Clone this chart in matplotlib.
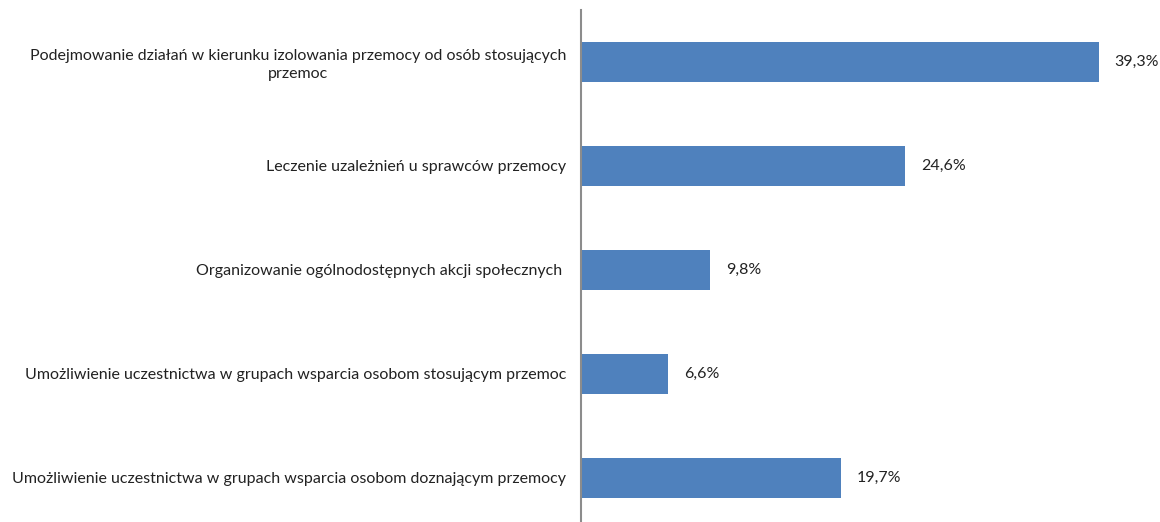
import matplotlib.pyplot as plt

categories = [
    "Podejmowanie działań w kierunku izolowania przemocy od osób stosujących\nprzemoc",
    "Leczenie uzależnień u sprawców przemocy",
    "Organizowanie ogólnodostępnych akcji społecznych ",
    "Umożliwienie uczestnictwa w grupach wsparcia osobom stosującym przemoc",
    "Umożliwienie uczestnictwa w grupach wsparcia osobom doznającym przemocy",
]
values = [39.3, 24.6, 9.8, 6.6, 19.7]
value_labels = ["39,3%", "24,6%", "9,8%", "6,6%", "19,7%"]

plt.rcParams['font.family'] = ['Lato', 'DejaVu Sans']

fig = plt.figure(figsize=(11.6, 5.22), dpi=100)
# axes placed so that 1% = ~13.18 px and the rows are ~104 px apart
ax = fig.add_axes([581 / 1160, 1 - 530 / 522, 527 / 1160, 520 / 522])

y = list(range(len(categories)))
ax.barh(y, values, height=0.39, color="#4F81BD", zorder=2)
ax.set_ylim(len(categories) - 0.5, -0.5)
ax.set_xlim(0, 40)

for yi, v, lab in zip(y, values, value_labels):
    ax.annotate(lab, (v, yi), xytext=(11.5, 0), textcoords="offset points",
                ha="left", va="center", fontsize=11.5, color="#222222")

ax.set_yticks(y)
ax.set_yticklabels(categories, fontsize=11.5, color="#222222",
                   multialignment="center", linespacing=1.35)
ax.tick_params(axis="y", length=0, pad=10.5)
ax.set_xticks([])

for side in ["top", "right", "bottom"]:
    ax.spines[side].set_visible(False)
ax.spines["left"].set_color("#8c8c8c")
ax.spines["left"].set_linewidth(1.5)

fig.savefig("out.png", dpi=100)
